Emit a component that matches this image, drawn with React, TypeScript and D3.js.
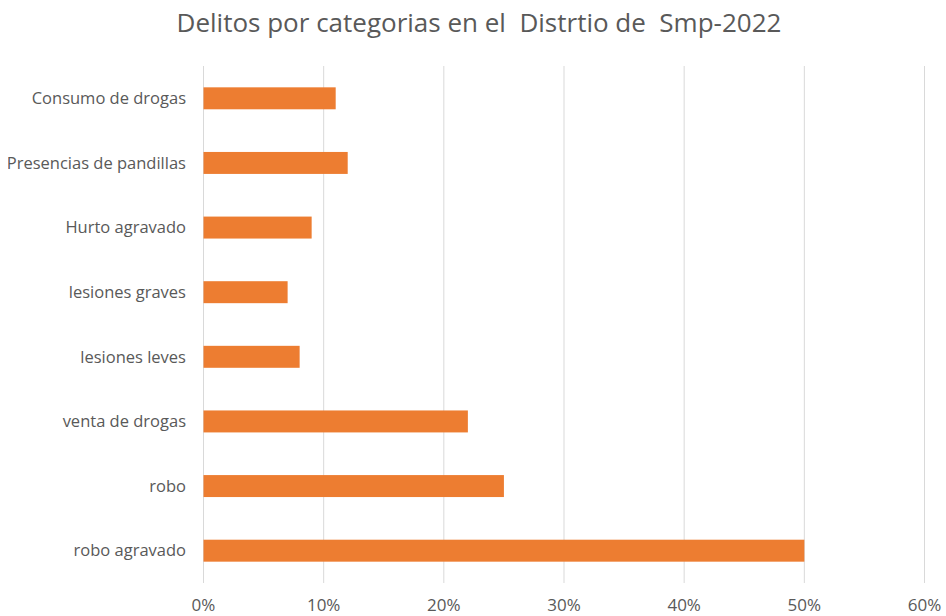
import React from "react";
import * as d3 from "d3";

const categories = [
  "Consumo de drogas",
  "Presencias de pandillas",
  "Hurto agravado",
  "lesiones graves",
  "lesiones leves",
  "venta de drogas",
  "robo",
  "robo agravado",
];
const values = [0.11, 0.12, 0.09, 0.07, 0.08, 0.22, 0.25, 0.5];
const ticks = [0, 0.1, 0.2, 0.3, 0.4, 0.5, 0.6];
const title = "Delitos por categorias en el  Distrtio de  Smp-2022";

const W = 946;
const H = 616;
const FONT = "'Open Sans', Lato, sans-serif";

export default function App() {
  const x = d3.scaleLinear().domain([0, 0.6]).range([203.5, 924.5]);
  const y = d3
    .scaleBand<string>()
    .domain(categories)
    .range([66, 583])
    .paddingInner(0.66)
    .paddingOuter(0.33);
  const fmt = d3.format(".0%");
  return (
    <svg
      width={W}
      height={H}
      style={{ position: "absolute", left: 0, top: 0, background: "#fff" }}
      fontFamily={FONT}
    >
      <defs>
        <clipPath id="lblclip">
          <rect x={8} y={0} width={W} height={H} />
        </clipPath>
      </defs>
      <rect width={W} height={H} fill="#fff" />
      <text
        x={479}
        y={32}
        textAnchor="middle"
        fontSize={26}
        fill="#595959"
        style={{ whiteSpace: "pre" }}
      >
        {title}
      </text>
      {ticks.map((t) => (
        <g key={t}>
          <line
            x1={x(t)}
            x2={x(t)}
            y1={66}
            y2={583}
            stroke="#d9d9d9"
            strokeWidth={1}
          />
          <text
            x={x(t)}
            y={611}
            textAnchor="middle"
            fontSize={17}
            fill="#595959"
          >
            {fmt(t)}
          </text>
        </g>
      ))}
      {categories.map((c, i) => (
        <g key={c}>
          <rect
            x={x(0)}
            y={y(c)!}
            width={x(values[i]) - x(0)}
            height={y.bandwidth()}
            fill="#ED7D31"
          />
          <text
            x={186}
            y={y(c)! + y.bandwidth() / 2}
            dy="0.35em"
            textAnchor="end"
            fontSize={16.5}
            fill="#595959"
            clipPath="url(#lblclip)"
          >
            {c}
          </text>
        </g>
      ))}
    </svg>
  );
}
